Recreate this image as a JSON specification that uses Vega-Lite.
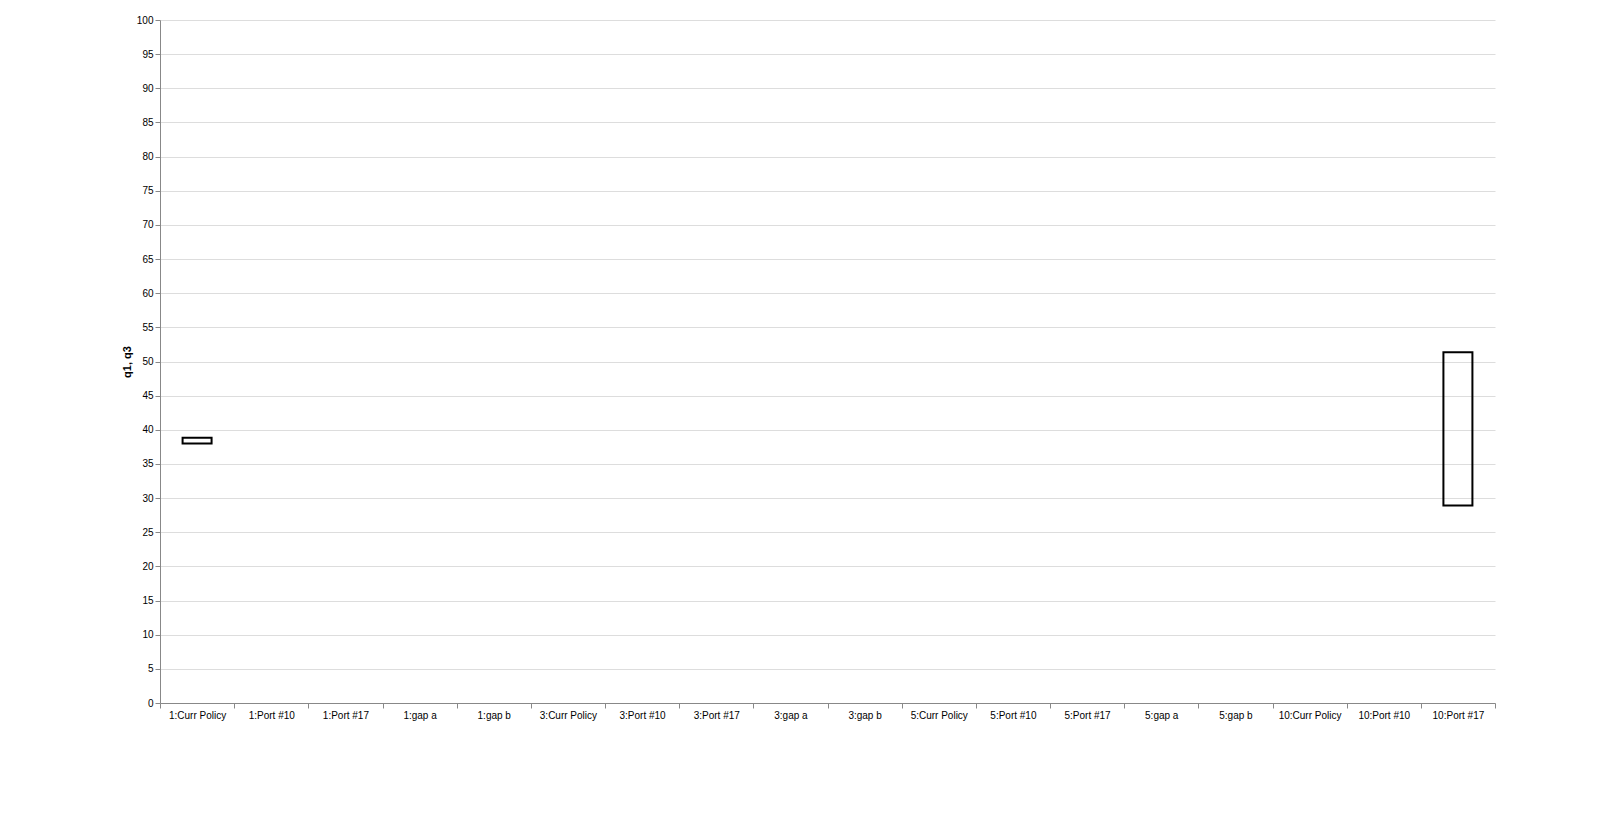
{
  "$schema": "https://vega.github.io/schema/vega-lite/v6.json",
  "width": 1335,
  "height": 683,
  "autosize": {"type": "none"},
  "padding": {"left": 160, "top": 20, "right": 105, "bottom": 132},
  "background": "white",
  "config": {"view": {"stroke": null}, "font": "Liberation Sans"},
  "data": {
    "values": [
      {"slot": "1:Curr Policy", "lo": 38.0, "q1": 38.0, "mean": 38.45, "q3": 38.85, "hi": 38.9},
      {"slot": "10:Port #17", "lo": 12.4, "q1": 28.9, "mean": 39.4, "q3": 51.35, "hi": 63.5}
    ]
  },
  "mark": {"type": "bar", "size": 29, "fillOpacity": 0, "stroke": "#000000", "strokeWidth": 2},
  "encoding": {
    "x": {
      "field": "slot",
      "type": "nominal",
      "scale": {
        "domain": ["1:Curr Policy","1:Port #10","1:Port #17","1:gap a","1:gap b","3:Curr Policy","3:Port #10","3:Port #17","3:gap a","3:gap b","5:Curr Policy","5:Port #10","5:Port #17","5:gap a","5:gap b","10:Curr Policy","10:Port #10","10:Port #17"],
        "paddingInner": 0,
        "paddingOuter": 0
      },
      "axis": {"title": null, "labelAngle": 0, "tickBand": "extent"}
    },
    "y": {"field": "q1", "type": "quantitative", "scale": {"domain": [0, 100]}},
    "y2": {"field": "q3"}
  }
}
